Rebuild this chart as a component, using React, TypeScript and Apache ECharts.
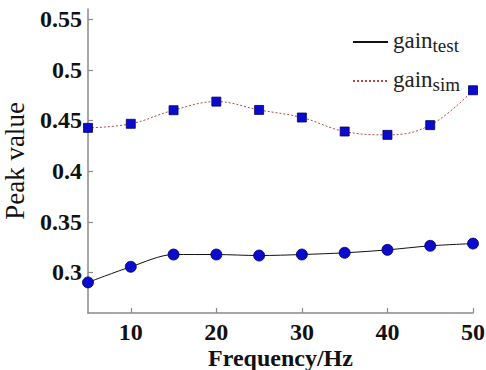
import React, { useEffect, useRef } from "react";
import * as echarts from "echarts";

const frequencies = [5, 10, 15, 20, 25, 30, 35, 40, 45, 50];
const gainTest = [0.2902, 0.3056, 0.3177, 0.3177, 0.3167, 0.3177, 0.3194, 0.3223, 0.3263, 0.3285];
const gainSim = [0.4427, 0.4467, 0.4601, 0.4686, 0.4604, 0.4529, 0.4391, 0.4358, 0.4454, 0.4798];
const seriesNames = ["gain_test", "gain_sim"];

const SERIF = "'Liberation Serif', 'Times New Roman', serif";

export default function App() {
  const ref = useRef<HTMLDivElement>(null);
  useEffect(() => {
    if (!ref.current) return;
    const chart = echarts.init(ref.current, null, { renderer: "svg" });
    const axisLine = { show: true, lineStyle: { color: "#8a8a8a", width: 1.5 } };
    chart.setOption({
      animation: false,
      backgroundColor: "#fff",
      grid: { left: 88, right: 13, top: 9, bottom: 57, containLabel: false, outerBoundsMode: "none" },
      legend: {
        orient: "vertical",
        left: 352,
        top: 24,
        padding: 0,
        itemWidth: 35,
        itemHeight: 14,
        itemGap: 8,
        itemStyle: { opacity: 0 },
        data: seriesNames,
        formatter: (name: string) =>
          name === "gain_test" ? "{a|gain}{b|test}" : "{a|gain}{b|sim}",
        textStyle: {
          rich: {
            a: { fontFamily: SERIF, fontSize: 23, lineHeight: 26, verticalAlign: "top", color: "#222" },
            b: { fontFamily: SERIF, fontSize: 19, lineHeight: 19, verticalAlign: "bottom", padding: [12, 0, 0, 0], color: "#222" },
          },
        },
      },
      xAxis: {
        type: "value",
        min: 5,
        max: 50,
        splitNumber: 5,
        axisLine,
        axisTick: { show: true, inside: true, length: 5, lineStyle: { color: "#8a8a8a", width: 1.2 } },
        splitLine: { show: false },
        axisLabel: {
          showMinLabel: false,
          margin: 7,
          fontFamily: SERIF,
          fontWeight: "bold",
          fontSize: 24,
          lineHeight: 24,
          color: "#111",
        },
        name: "Frequency/Hz",
        nameLocation: "middle",
        nameGap: 33,
        nameMoveOverlap: false,
        nameTextStyle: { fontFamily: SERIF, fontWeight: "bold", fontSize: 24, lineHeight: 24, color: "#111" },
      },
      yAxis: {
        type: "value",
        min: 0.26,
        max: 0.56,
        splitNumber: 6,
        axisLine,
        axisTick: { show: true, inside: true, length: 5, lineStyle: { color: "#8a8a8a", width: 1.2 } },
        splitLine: { show: false },
        axisLabel: {
          showMinLabel: false,
          showMaxLabel: false,
          margin: 6,
          fontFamily: SERIF,
          fontWeight: "bold",
          fontSize: 24,
          color: "#111",
          formatter: (v: number) => String(Math.round(v * 100) / 100),
        },
        name: "Peak value",
        nameLocation: "middle",
        nameGap: 60,
        nameMoveOverlap: false,
        nameTextStyle: { fontFamily: SERIF, fontSize: 27, color: "#111" },
      },
      series: [
        {
          name: seriesNames[0],
          type: "line",
          smooth: 0.3,
          data: frequencies.map((f, i) => [f, gainTest[i]]),
          symbol: "circle",
          symbolSize: 11,
          lineStyle: { color: "#111", width: 1 },
          itemStyle: { color: "#0a0ad0", borderColor: "#00005a", borderWidth: 0.8 },
        },
        {
          name: seriesNames[1],
          type: "line",
          smooth: 0.4,
          data: frequencies.map((f, i) => [f, gainSim[i]]),
          symbol: "rect",
          symbolSize: 9,
          lineStyle: { color: "#b04848", width: 1, type: [2, 2] },
          itemStyle: { color: "#0a0ad0", borderColor: "#00005a", borderWidth: 0.8 },
        },
      ],
    });
    return () => chart.dispose();
  }, []);
  return <div ref={ref} style={{ position: "fixed", left: 0, top: 0, width: 486, height: 370 }} />;
}
